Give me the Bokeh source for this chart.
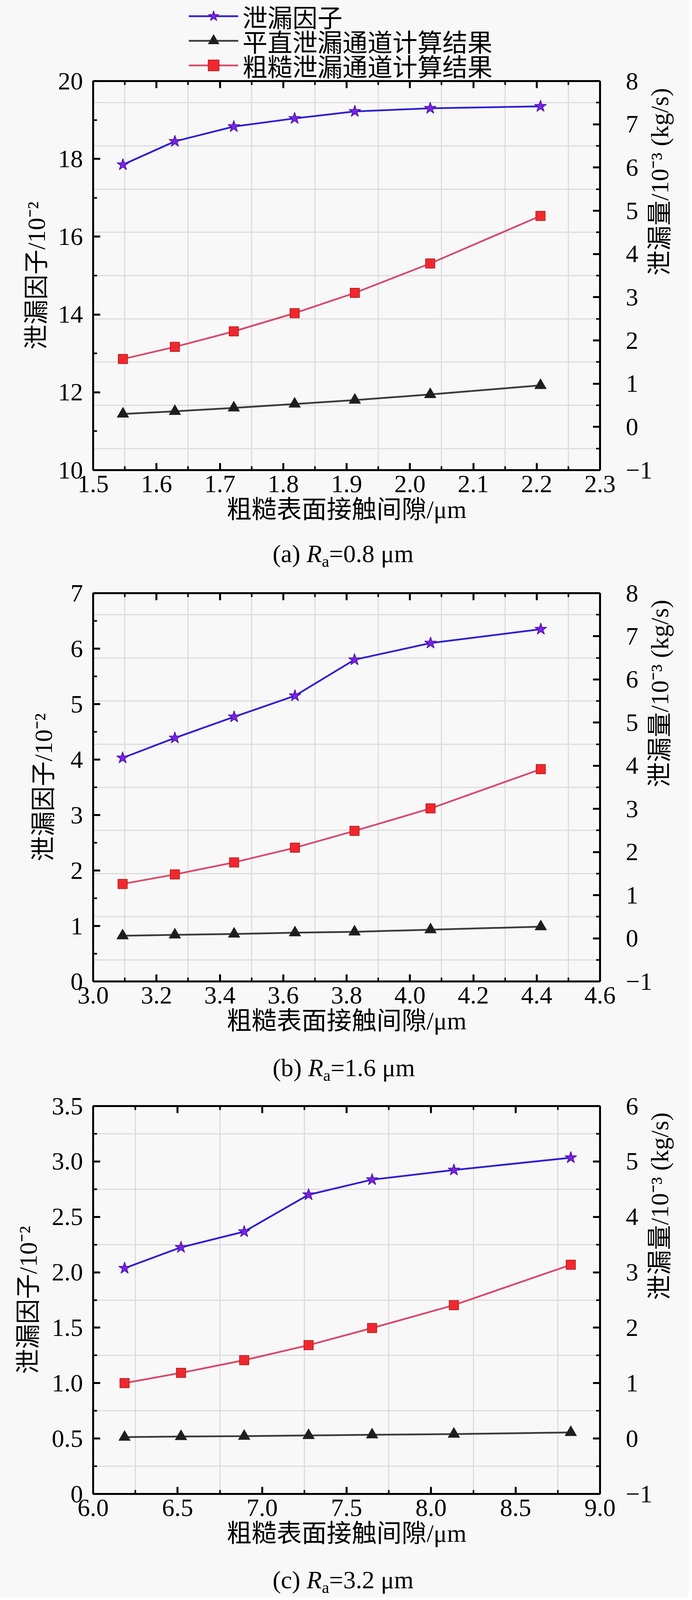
import math
from bokeh.plotting import figure
from bokeh.models import (Range1d, LinearAxis, FixedTicker, Grid, Legend,
                          LegendItem, Div)
from bokeh.layouts import column
from bokeh.embed import file_html
from bokeh.resources import INLINE

# ---------------- data ----------------
series_names = ["泄漏因子", "平直泄漏通道计算结果", "粗糙泄漏通道计算结果"]
x_title = "粗糙表面接触间隙/μm"
yl_title = "泄漏因子/10⁻²"
yr_title = "泄漏量/10⁻³ (kg/s)"

# panel (a)  Ra = 0.8 um
gap_a = [1.547, 1.629, 1.722, 1.818, 1.913, 2.032, 2.206]
factor_a = [17.85, 18.45, 18.83, 19.04, 19.22, 19.30, 19.35]
flat_a = [0.30, 0.36, 0.44, 0.53, 0.62, 0.75, 0.96]
rough_a = [1.57, 1.85, 2.21, 2.63, 3.10, 3.78, 4.88]
xt_a = [1.5, 1.6, 1.7, 1.8, 1.9, 2.0, 2.1, 2.2, 2.3]
xl_a = ["1.5", "1.6", "1.7", "1.8", "1.9", "2.0", "2.1", "2.2", "2.3"]
ylt_a = [10, 12, 14, 16, 18, 20]
yll_a = ["10", "12", "14", "16", "18", "20"]
yrt_a = [-1, 0, 1, 2, 3, 4, 5, 6, 7, 8]
yrl_a = ["−1", "0", "1", "2", "3", "4", "5", "6", "7", "8"]

# panel (b)  Ra = 1.6 um
gap_b = [3.093, 3.258, 3.445, 3.637, 3.825, 4.065, 4.413]
factor_b = [4.03, 4.39, 4.77, 5.15, 5.80, 6.10, 6.35]
flat_b = [0.06, 0.08, 0.10, 0.13, 0.15, 0.20, 0.27]
rough_b = [1.26, 1.48, 1.76, 2.10, 2.49, 3.01, 3.92]
xt_b = [3.0, 3.2, 3.4, 3.6, 3.8, 4.0, 4.2, 4.4, 4.6]
xl_b = ["3.0", "3.2", "3.4", "3.6", "3.8", "4.0", "4.2", "4.4", "4.6"]
ylt_b = [0, 1, 2, 3, 4, 5, 6, 7]
yll_b = ["0", "1", "2", "3", "4", "5", "6", "7"]
yrt_b = [-1, 0, 1, 2, 3, 4, 5, 6, 7, 8]
yrl_b = ["−1", "0", "1", "2", "3", "4", "5", "6", "7", "8"]

# panel (c)  Ra = 3.2 um
gap_c = [6.186, 6.520, 6.894, 7.275, 7.651, 8.135, 8.827]
factor_c = [2.037, 2.225, 2.367, 2.700, 2.836, 2.923, 3.034]
flat_c = [0.025, 0.037, 0.043, 0.056, 0.068, 0.080, 0.110]
rough_c = [1.00, 1.185, 1.414, 1.685, 1.994, 2.407, 3.136]
xt_c = [6.0, 6.5, 7.0, 7.5, 8.0, 8.5, 9.0]
xl_c = ["6.0", "6.5", "7.0", "7.5", "8.0", "8.5", "9.0"]
ylt_c = [0, 0.5, 1.0, 1.5, 2.0, 2.5, 3.0, 3.5]
yll_c = ["0", "0.5", "1.0", "1.5", "2.0", "2.5", "3.0", "3.5"]
yrt_c = [-1, 0, 1, 2, 3, 4, 5, 6]
yrl_c = ["−1", "0", "1", "2", "3", "4", "5", "6"]

# ---------------- style ----------------
BG = "#f8f8f8"
FONT = "Liberation Serif, Noto Sans CJK SC"
FS = "64px"
GRID = "#dddddd"
BLUE = "#2f1fd4"
PURPLE = "#7a22e2"
DKPURPLE = "#3b0c9c"
BLACK_L = "#3a3a3a"
BLACK_M = "#1e1e1e"
RED_L = "#d84a6c"
RED_M = "#f0282e"
DKRED = "#a81818"

W = 1756


def mids(t):
    return [(a + b) / 2 for a, b in zip(t[:-1], t[1:])]


def style_axis(ax):
    ax.axis_line_width = 5
    ax.axis_line_color = "black"
    ax.major_tick_in = 18
    ax.major_tick_out = 0
    ax.minor_tick_in = 10
    ax.minor_tick_out = 0
    ax.major_tick_line_width = 5
    ax.minor_tick_line_width = 4
    ax.major_tick_line_color = "black"
    ax.minor_tick_line_color = "black"
    ax.major_label_text_font = FONT
    ax.major_label_text_font_size = FS
    ax.major_label_text_color = "black"
    ax.axis_label_text_font = FONT
    ax.axis_label_text_font_size = FS
    ax.axis_label_text_font_style = "normal"
    ax.axis_label_text_color = "black"


def add_series(p, gap, factor, flat, rough):
    r1l = p.line(gap, factor, line_color=BLUE, line_width=4.5)
    r1s = p.scatter(gap, factor, marker="star", size=32, fill_color=PURPLE,
                    line_color=DKPURPLE, line_width=1.5)
    r2l = p.line(gap, flat, y_range_name="right", line_color=BLACK_L,
                 line_width=4.5)
    r2s = p.scatter(gap, flat, y_range_name="right", marker="triangle",
                    size=30, fill_color=BLACK_M, line_color=BLACK_M)
    r3l = p.line(gap, rough, y_range_name="right", line_color=RED_L,
                 line_width=4.5)
    r3s = p.scatter(gap, rough, y_range_name="right", marker="square",
                    size=24, fill_color=RED_M, line_color=DKRED,
                    line_width=1.5)
    return [(r1l, r1s), (r2l, r2s), (r3l, r3s)]


def panel(top, frame_h, bottom, gap, factor, flat, rough, xt, xl, ylt, yll,
          yrt, yrl, yl_standoff, margin=0):
    p = figure(frame_width=1298, frame_height=frame_h,
               output_backend="svg", toolbar_location=None,
               x_range=Range1d(xt[0], xt[-1]),
               y_range=Range1d(ylt[0], ylt[-1]),
               min_border_left=238, min_border_right=220,
               min_border_top=top, min_border_bottom=bottom,
               background_fill_color=BG, border_fill_color=BG,
               border_fill_alpha=0, outline_line_color=None, margin=margin)
    p.extra_y_ranges = {"right": Range1d(yrt[0], yrt[-1])}
    p.grid.visible = False

    p.add_layout(Grid(dimension=0, ticker=FixedTicker(ticks=mids(xt)),
                      grid_line_color=GRID, grid_line_width=3))
    p.add_layout(Grid(dimension=1, y_range_name="right",
                      ticker=FixedTicker(ticks=mids(yrt)),
                      grid_line_color=GRID, grid_line_width=3))

    xa = p.xaxis[0]
    xa.ticker = FixedTicker(ticks=xt, minor_ticks=mids(xt))
    xa.major_label_overrides = dict(zip(xt, xl))
    style_axis(xa)
    xa.major_label_standoff = 14
    xa.axis_label = x_title
    xa.axis_label_standoff = 6

    ya = p.yaxis[0]
    ya.ticker = FixedTicker(ticks=ylt, minor_ticks=mids(ylt))
    ya.major_label_overrides = dict(zip(ylt, yll))
    style_axis(ya)
    ya.major_label_standoff = 26
    ya.axis_label = yl_title
    ya.axis_label_standoff = yl_standoff

    ra_ax = LinearAxis(y_range_name="right",
                       ticker=FixedTicker(ticks=yrt, minor_ticks=mids(yrt)),
                       major_label_overrides=dict(zip(yrt, yrl)))
    style_axis(ra_ax)
    ra_ax.major_label_standoff = 66
    ra_ax.axis_label = yr_title
    ra_ax.axis_label_standoff = 16
    if "axis_label_orientation" in ra_ax.properties():
        ra_ax.axis_label_orientation = math.pi / 2
    p.add_layout(ra_ax, "right")

    ta = LinearAxis(ticker=FixedTicker(ticks=xt, minor_ticks=mids(xt)))
    style_axis(ta)
    ta.major_label_text_color = None
    ta.major_label_text_font_size = "0px"
    ta.major_label_standoff = 0
    p.add_layout(ta, "above")

    add_series(p, gap, factor, flat, rough)
    return p


def caption(letter, ra, height):
    html = ('<div style="font-family:\'Liberation Serif\',serif;'
            'font-size:64px;line-height:71px;padding-left:698px;'
            'color:#000;white-space:nowrap;">(%s) <i>R</i>'
            '<span style="font-size:42px;vertical-align:-12px;">a</span>'
            '=%s μm</div>' % (letter, ra))
    return Div(text=html, width=W, height=height, margin=0,
               styles={"background-color": BG, "overflow": "visible"})


# legend strip on top (its glyphs fall outside this strip's ranges)
lf = figure(width=W, height=215, output_backend="svg", toolbar_location=None,
            x_range=Range1d(0, 1), y_range=Range1d(0, 1),
            min_border=0, x_axis_location=None, y_axis_location=None,
            background_fill_color=BG, border_fill_color=BG,
            outline_line_color=None)
lf.extra_y_ranges = {"right": Range1d(-10, -9)}
lf.grid.visible = False
pairs = add_series(lf, gap_a, factor_a, flat_a, rough_a)
for name, rr, vy in zip(series_names, pairs, [128, 65, 2]):
    lg = Legend(items=[LegendItem(label=name, renderers=list(rr))],
                location=(245, vy), orientation="vertical",
                glyph_width=127, glyph_height=70, label_standoff=11,
                spacing=0, padding=0, margin=0,
                border_line_color=None, background_fill_alpha=0,
                label_text_font=FONT, label_text_font_size=FS,
                label_text_color="black")
    lf.add_layout(lg)

# panel (a) overlaps the bottom of the legend strip (transparent border)
pa = panel(42, 996, 179, gap_a, factor_a, flat_a, rough_a, xt_a, xl_a,
           ylt_a, yll_a, yrt_a, yrl_a, 17, margin=(-50, 0, 0, 0))
pb = panel(60, 994, 186, gap_b, factor_b, flat_b, rough_b, xt_b, xl_b,
           ylt_b, yll_b, yrt_b, yrl_b, 31)
pc = panel(57, 993, 185, gap_c, factor_c, flat_c, rough_c, xt_c, xl_c,
           ylt_c, yll_c, yrt_c, yrl_c, 22)

ca = caption("a", "0.8", 76)
cb = caption("b", "1.6", 76)
cc = caption("c", "3.2", 80)

layout = column(lf, pa, ca, pb, cb, pc, cc, spacing=0,
                styles={"background-color": BG})
open("out.html", "w").write(file_html(layout, INLINE))
